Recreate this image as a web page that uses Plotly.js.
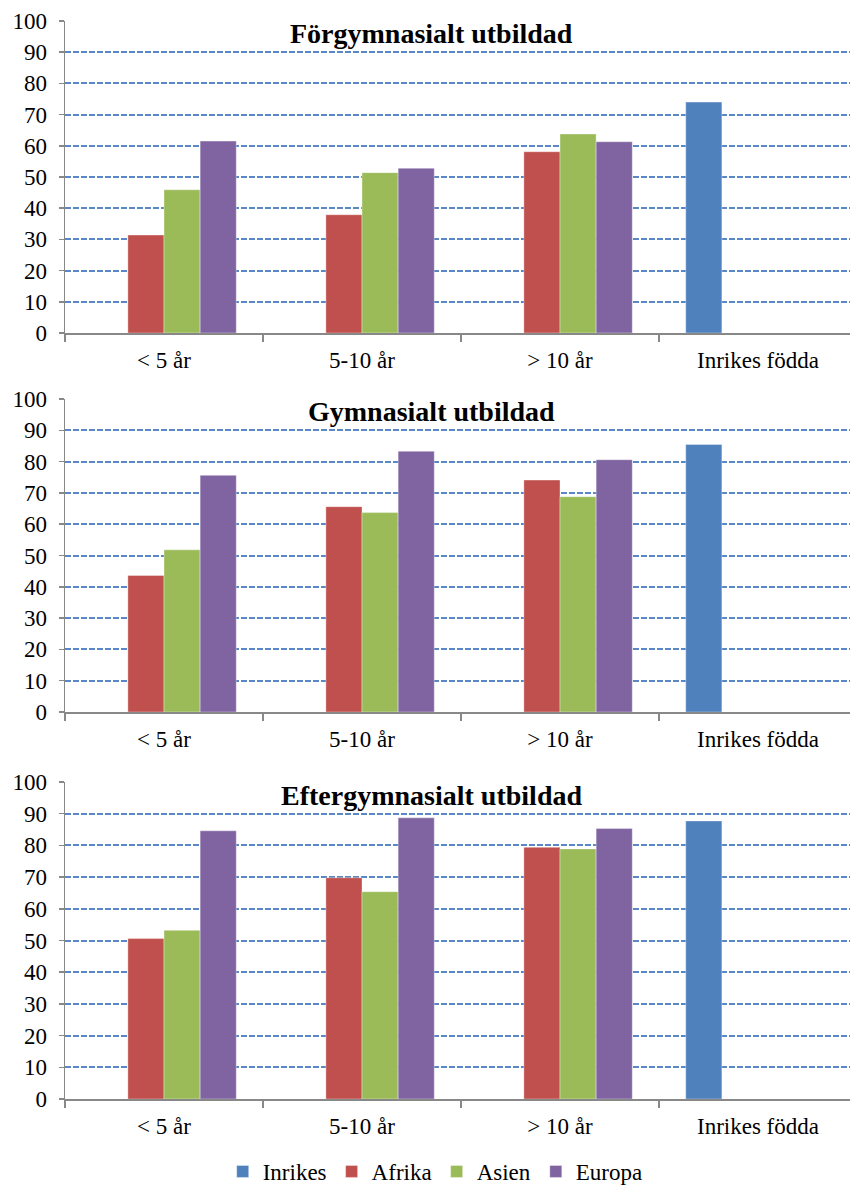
<!DOCTYPE html>
<html>
<head>
<meta charset="utf-8">
<script src="https://cdn.plot.ly/plotly-3.0.1.min.js"></script>
<style>html,body{margin:0;padding:0;background:#fff;}#chart{width:850px;height:1185px;}</style>
</head>
<body>
<div id="chart"></div>
<script>
// ---- data ----
var categories = ['< 5 år', '5-10 år', '> 10 år', 'Inrikes födda'];
var seriesNames = ['Inrikes', 'Afrika', 'Asien', 'Europa'];
var panelTitles = ['Förgymnasialt utbildad', 'Gymnasialt utbildad', 'Eftergymnasialt utbildad'];

var inrikes1 = [null, null, null, 74.0];
var afrika1  = [31.4, 37.9, 58.1, null];
var asien1   = [45.9, 51.4, 63.8, null];
var europa1  = [61.5, 52.8, 61.3, null];

var inrikes2 = [null, null, null, 85.5];
var afrika2  = [43.6, 65.6, 74.1, null];
var asien2   = [51.8, 63.7, 68.8, null];
var europa2  = [75.6, 83.3, 80.6, null];

var inrikes3 = [null, null, null, 87.7];
var afrika3  = [50.6, 69.8, 79.4, null];
var asien3   = [53.2, 65.4, 78.9, null];
var europa3  = [84.6, 88.7, 85.3, null];

var yTickVals = [0, 10, 20, 30, 40, 50, 60, 70, 80, 90, 100];

// ---- styling ----
var colors = ['#4F81BD', '#C0504D', '#9BBB59', '#8064A2'];
var W = 850, H = 1185;
var font = 'Liberation Serif';
var panels = [
  [inrikes1, afrika1, asien1, europa1],
  [inrikes2, afrika2, asien2, europa2],
  [inrikes3, afrika3, asien3, europa3]
];
// pixel positions of each plot area (top, bottom)
var pix = [[21, 333], [399, 712], [782, 1099]];
var titleY = [33, 411, 795];

var traces = [];
panels.forEach(function (p, pi) {
  var ax = pi === 0 ? '' : String(pi + 1);
  p.forEach(function (vals, si) {
    traces.push({
      type: 'bar',
      x: categories,
      y: vals,
      name: seriesNames[si],
      xaxis: 'x' + ax,
      yaxis: 'y' + ax,
      showlegend: pi === 0,
      legendgroup: seriesNames[si],
      marker: {color: colors[si], line: {color: 'rgba(255,255,255,0.6)', width: 0.6}},
      hoverinfo: 'x+y+name'
    });
  });
});

var layout = {
  width: W, height: H,
  margin: {l: 0, r: 0, t: 0, b: 0, autoexpand: false},
  paper_bgcolor: '#fff', plot_bgcolor: '#fff',
  font: {family: font, size: 23, color: '#000'},
  barmode: 'group', bargap: 0.27, bargroupgap: 0,
  showlegend: true,
  legend: {orientation: 'h', x: 0.512, xanchor: 'center', y: -8 / H, yanchor: 'bottom',
           bgcolor: 'rgba(0,0,0,0)',
           font: {family: font, size: 23, color: '#000'}, itemwidth: 30, traceorder: 'normal'},
  annotations: []
};

pix.forEach(function (pp, pi) {
  var ax = pi === 0 ? '' : String(pi + 1);
  layout['xaxis' + ax] = {
    domain: [65 / W, 1],
    type: 'category',
    range: [-0.5, -0.5 + 785 / 198],
    showline: true, linecolor: '#888', linewidth: 1.5,
    ticks: 'outside', tickson: 'boundaries', ticklen: 7, tickcolor: '#888', tickwidth: 1.5,
    ticklabelstandoff: 6,
    showgrid: false, zeroline: false, automargin: false,
    tickfont: {family: font, size: 23, color: '#000'},
    anchor: 'y' + ax, fixedrange: true
  };
  layout['yaxis' + ax] = {
    domain: [1 - pp[1] / H, 1 - pp[0] / H],
    range: [0, 100],
    tickvals: yTickVals,
    showline: true, linecolor: '#888', linewidth: 1.5,
    ticks: 'outside', ticklen: 5, tickcolor: '#888', tickwidth: 1.5,
    ticklabelstandoff: 7,
    showgrid: true, gridcolor: '#5A88C4', gridwidth: 2, griddash: '6px,2px',
    zeroline: false, automargin: false,
    tickfont: {family: font, size: 23, color: '#000'},
    anchor: 'x' + ax, fixedrange: true
  };
  layout.annotations.push({
    text: '<b>' + panelTitles[pi] + '</b>',
    xref: 'paper', yref: 'paper',
    x: 432 / W, y: 1 - titleY[pi] / H,
    xanchor: 'center', yanchor: 'middle',
    showarrow: false,
    font: {family: font, size: 28, color: '#000'}
  });
});

Plotly.newPlot('chart', traces, layout, {displayModeBar: false, staticPlot: true});
</script>
</body>
</html>
